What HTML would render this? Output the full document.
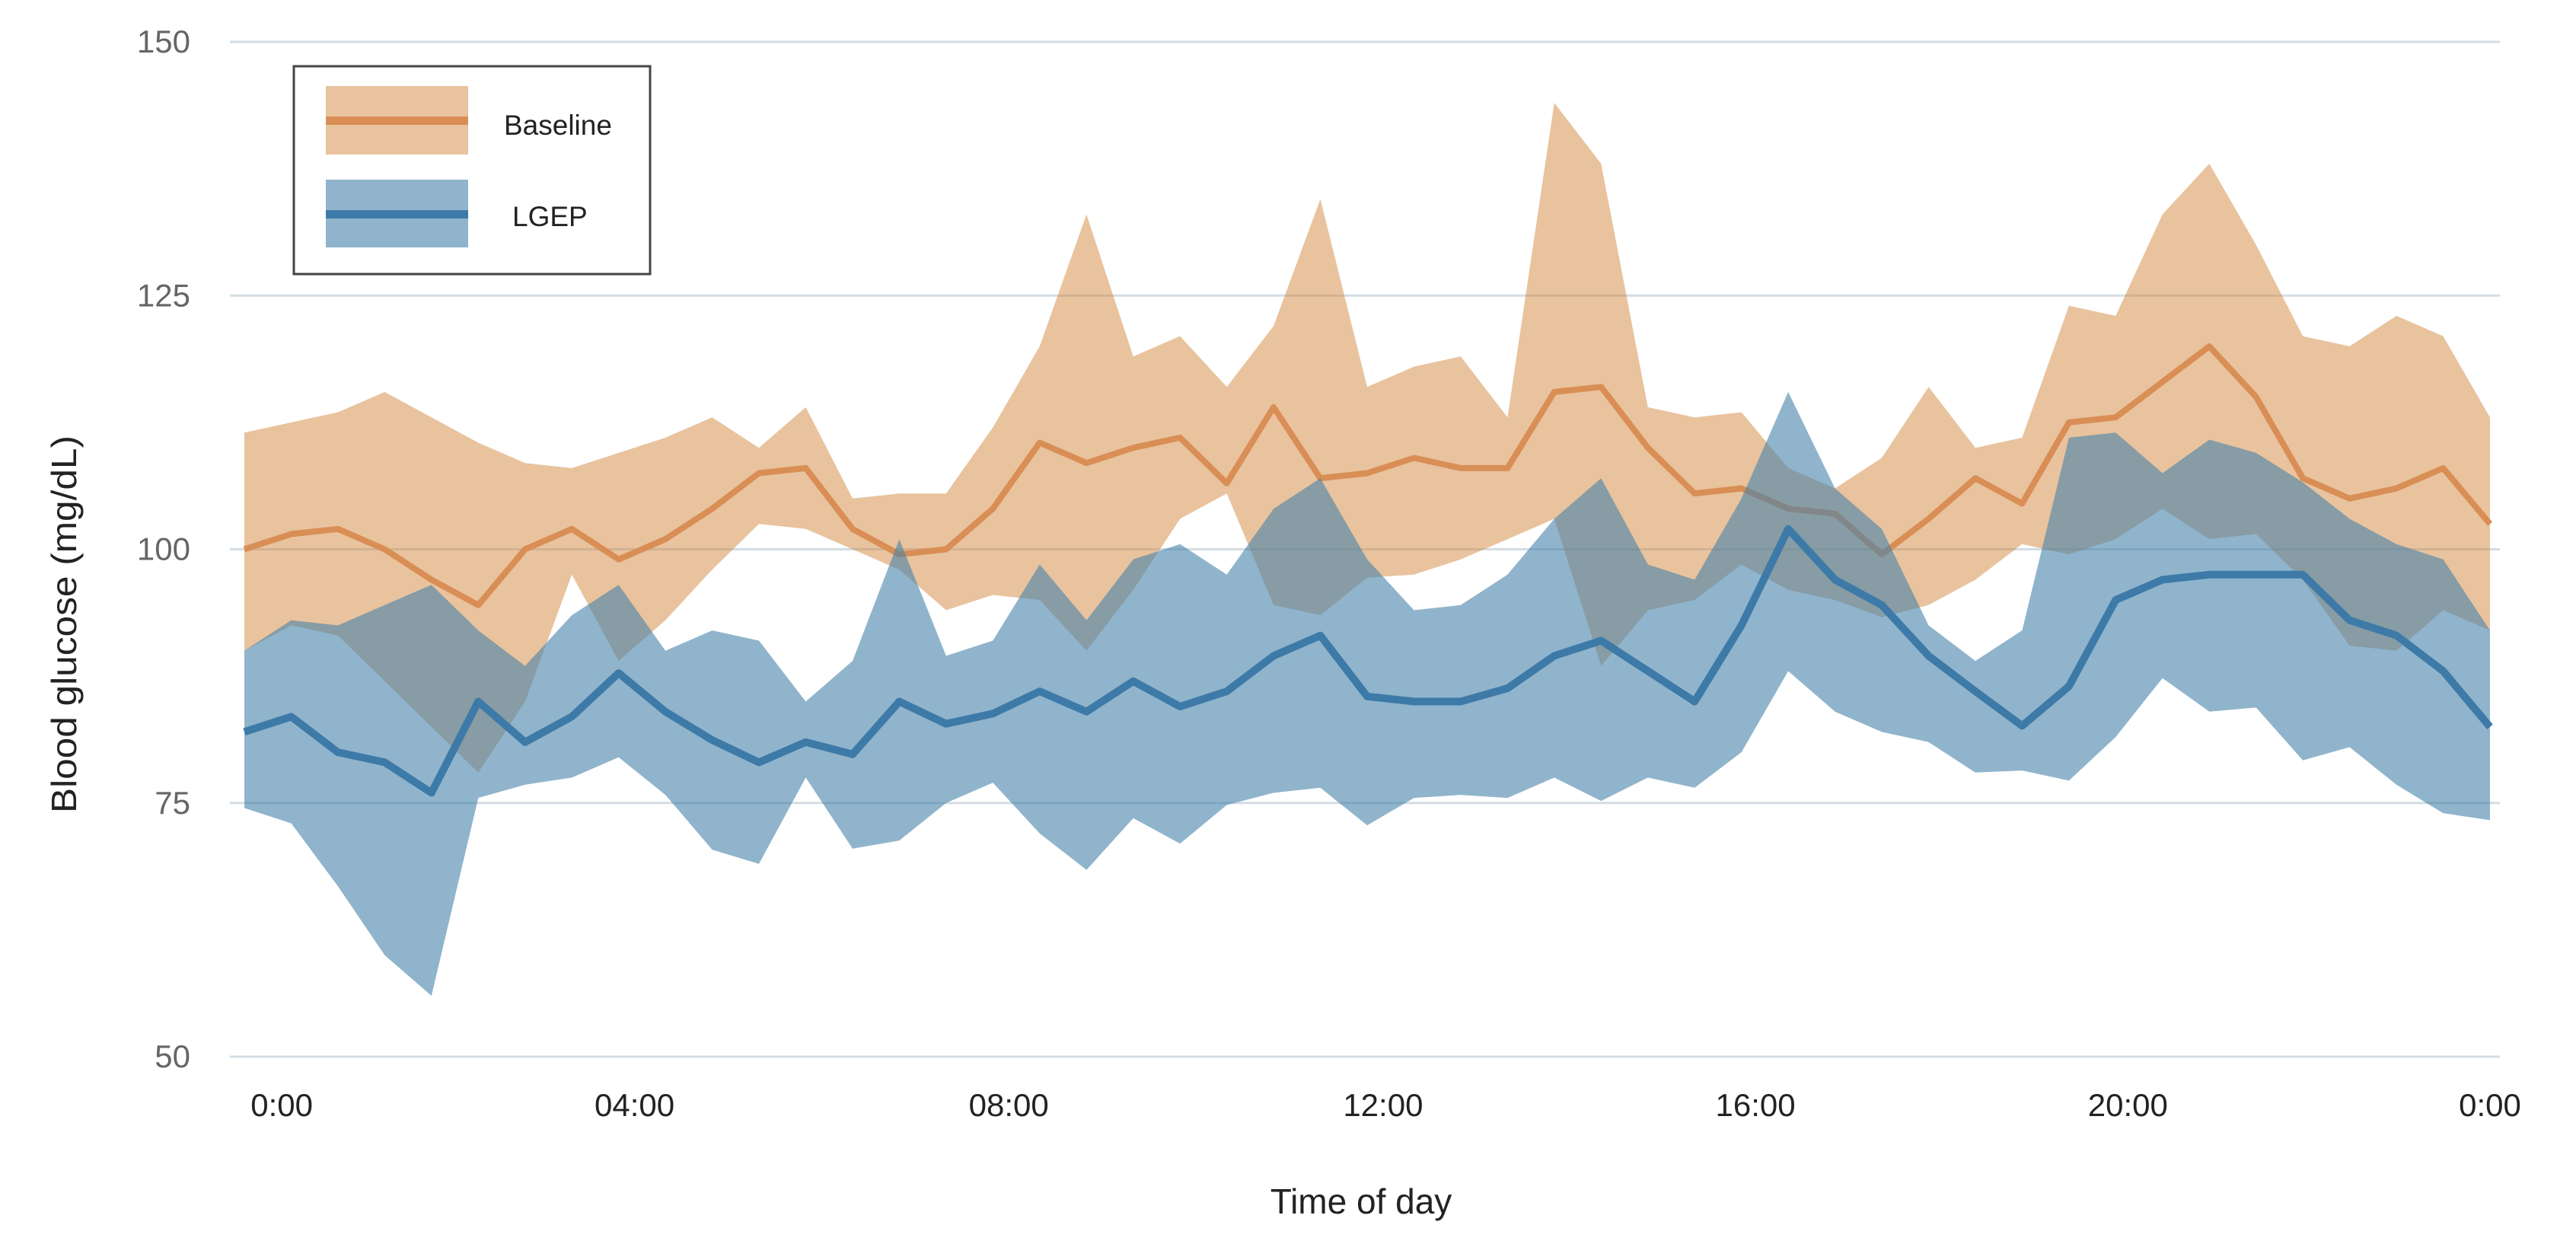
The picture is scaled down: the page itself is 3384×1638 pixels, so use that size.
<!DOCTYPE html>
<html><head><meta charset="utf-8"><style>
html,body{margin:0;padding:0;background:#fff;}
svg{display:block;}
text{font-family:"Liberation Sans",sans-serif;}
</style></head><body>
<svg id="chart" width="3384" height="1638" viewBox="0 0 3384 1638" xmlns="http://www.w3.org/2000/svg">
<g id="grid"></g>
<g id="ylabels"></g>
<g id="xlabels"></g>
<g id="series"></g>
<text x="0" y="0" transform="translate(100,820) rotate(-90)" text-anchor="middle" font-size="46" fill="#222" textLength="496" lengthAdjust="spacingAndGlyphs">Blood glucose (mg/dL)</text>
<text x="1788" y="1594" text-anchor="middle" font-size="46" fill="#222">Time of day</text>
<g>
<rect x="386" y="87" width="468" height="273" fill="#fff" stroke="#444" stroke-width="3"/>
<rect x="428" y="113" width="187" height="90" fill="#d1873d" fill-opacity="0.5"/>
<rect x="428" y="153" width="187" height="11" fill="#d98e55"/>
<text x="662" y="177" font-size="37" fill="#222">Baseline</text>
<rect x="428" y="236" width="187" height="89" fill="#4682aa" fill-opacity="0.6"/>
<rect x="428" y="276" width="187" height="11" fill="#3d7aa8"/>
<text x="673" y="297" font-size="37" fill="#222">LGEP</text>
</g>
</svg>
<script>
const yTicks = [50, 75, 100, 125, 150];
const xTickHours = [0.4, 4.17, 8.17, 12.17, 16.15, 20.13, 24.0];
const xTickLabels = ["0:00","04:00","08:00","12:00","16:00","20:00","0:00"];
const baseMean = [100,101.5,102,100,97,94.5,100,102,99,101,104,107.5,108,102,99.5,100,104,110.5,108.5,110,111,106.5,114,107,107.5,109,108,108,115.5,116,110,105.5,106,104,103.5,99.5,103,107,104.5,112.5,113,116.5,120,115,107,105,106,108,102.5];
const baseUpper = [111.5,112.5,113.5,115.5,113,110.5,108.5,108,109.5,111,113,110,114,105,105.5,105.5,112,120,133,119,121,116,122,134.5,116,118,119,113,144,138,114,113,113.5,108,106,109,116,110,111,124,123,133,138,130,121,120,123,121,113];
const baseLower = [90,92.5,91.5,87,82.5,78,85,97.5,89,93,98,102.5,102,100,98,94,95.5,95,90,96,103,105.5,94.5,93.5,97.2,97.5,99,101,103,88.5,94,95,98.5,96,95,93.3,94.5,97,100.5,99.5,101,104,101,101.5,97,90.5,90,94,92];
const lgepMean = [82,83.5,80,79,76,85,81,83.5,87.8,84,81.2,79,81,79.8,85,82.8,83.8,86,84,87,84.5,86,89.5,91.5,85.5,85,85,86.3,89.5,91,88,85,92.5,102,97,94.5,89.5,86,82.6,86.5,95,97,97.5,97.5,97.5,93,91.5,88,82.5];
const lgepUpper = [90,93,92.5,94.5,96.5,92,88.5,93.5,96.5,90,92,91,85,89,101,89.5,91,98.5,93,99,100.5,97.5,104,107,99,94,94.5,97.5,103,107,98.5,97,105,115.5,106,102,92.5,89,92,111,111.5,107.5,110.8,109.5,106.6,103,100.5,99,92];
const lgepLower = [74.5,73,66.8,60,56,75.5,76.8,77.5,79.5,75.8,70.4,69,77.5,70.5,71.3,75,77,72,68.4,73.5,71,74.8,76,76.5,72.8,75.5,75.8,75.5,77.5,75.2,77.5,76.5,80,88,84,82,81,78,78.2,77.2,81.5,87.3,84,84.4,79.2,80.5,76.8,74,73.3];

const SVGNS = "http://www.w3.org/2000/svg";
const X0 = 321, X1 = 3271, Y50 = 1388, Y150 = 55;
function xs(h){ return X0 + (h/24)*(X1-X0); }
function ys(v){ return Y50 - (v-50)/100*(Y50-Y150); }
function hourAt(i, n){ return i*24/(n-1); }
function mk(tag, attrs, parent){
  const e = document.createElementNS(SVGNS, tag);
  for (const k in attrs) e.setAttribute(k, attrs[k]);
  parent.appendChild(e); return e;
}
const grid = document.getElementById('grid');
const yl = document.getElementById('ylabels');
yTicks.forEach(v=>{
  const l = mk('line',{x1:302,x2:3284,y1:ys(v),y2:ys(v),stroke:'#d3dde4','stroke-width':3},grid);
  
  
  const t = mk('text',{x:250,y:ys(v)+14,'text-anchor':'end','font-size':42,fill:'#666'},yl);
  t.textContent = v;
  
  
});
const xl = document.getElementById('xlabels');
xTickHours.forEach((h,i)=>{
  const t = mk('text',{x:xs(h),y:1466,'text-anchor':'middle','font-size':42,fill:'#222'},xl);
  t.textContent = xTickLabels[i];
  
  
});
const ser = document.getElementById('series');
function band(up, lo, fill, op, name){
  const n = up.length; let d = '';
  for (let i=0;i<n;i++) d += (i?'L':'M') + xs(hourAt(i,n)).toFixed(1)+','+ys(up[i]).toFixed(1);
  for (let i=n-1;i>=0;i--) d += 'L' + xs(hourAt(i,n)).toFixed(1)+','+ys(lo[i]).toFixed(1);
  const p = mk('path',{d:d+'Z',fill:fill,'fill-opacity':op},ser);
  
  
}
function line(vals, color, w, name){
  const n = vals.length;
  const pts = vals.map((v,i)=>xs(hourAt(i,n)).toFixed(1)+','+ys(v).toFixed(1)).join(' ');
  const p = mk('polyline',{points:pts,fill:'none',stroke:color,'stroke-width':w,'stroke-linejoin':'round'},ser);
  
  
}
band(baseUpper, baseLower, '#d1873d', 0.5, 'baseline-band');
line(baseMean, '#d98e55', 8, 'baseline-line');
band(lgepUpper, lgepLower, '#4682aa', 0.6, 'lgep-band');
line(lgepMean, '#3d7aa8', 10, 'lgep-line');
</script>
</body></html>
